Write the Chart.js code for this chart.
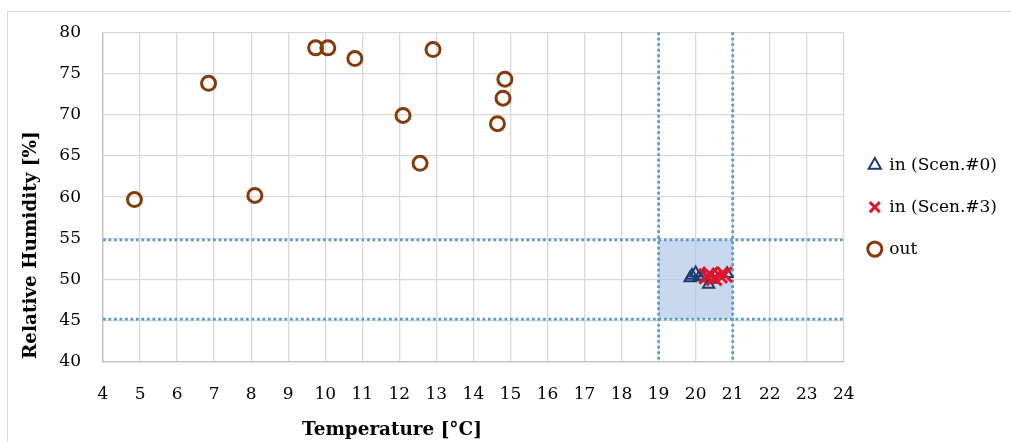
<!DOCTYPE html>
<html>
<head>
<meta charset="utf-8">
<script src="https://cdn.jsdelivr.net/npm/chart.js@4"></script>
<style>
  html, body { margin: 0; padding: 0; background: #fff; }
  #wrap { position: relative; width: 1011px; height: 442px; overflow: hidden; }
  #frame { position: absolute; left: 7px; top: 11px; width: 1020px; height: 450px; border: 1px solid #d9d9d9; box-sizing: border-box; }
  canvas { position: absolute; left: 0; top: 0; }
</style>
</head>
<body>
<div id="wrap">
  <div id="frame"></div>
  <canvas id="c" width="1011" height="442"></canvas>
</div>
<script>
// ---- data ----
const tempOut = [4.85, 6.85, 8.10, 9.74, 10.07, 10.80, 12.10, 12.56, 12.91, 14.65, 14.80, 14.85];
const rhOut   = [59.7, 73.8, 60.2, 78.1, 78.1, 76.8, 69.9, 64.1, 77.9, 68.9, 72.0, 74.3];

const tempIn0 = [19.85, 19.90, 20.00, 20.10, 20.20, 20.35, 20.45, 20.85];
const rhIn0   = [50.2, 50.5, 50.8, 50.3, 50.4, 49.4, 50.0, 50.7];

const tempIn3 = [20.30, 20.40, 20.50, 20.65, 20.78];
const rhIn3   = [50.4, 50.6, 50.2, 50.5, 50.6];

const zoneTemp = [19, 21];
const zoneRH   = [45.2, 54.8];

const xTicks = [4,5,6,7,8,9,10,11,12,13,14,15,16,17,18,19,20,21,22,23,24];
const yTicks = [40,45,50,55,60,65,70,75,80];

const seriesNames = ['in (Scen.#0)', 'in (Scen.#3)', 'out'];
const xTitle = 'Temperature [°C]';
const yTitle = 'Relative Humidity [%]';

const FONT = '"DejaVu Serif", "Liberation Serif", serif';

function pts(xs, ys) { return xs.map((x, i) => ({ x: x, y: ys[i] })); }

const zonePlugin = {
  id: 'zone',
  beforeDatasetsDraw(chart) {
    const { ctx, chartArea: a, scales: { x, y } } = chart;
    const x0 = x.getPixelForValue(zoneTemp[0]), x1 = x.getPixelForValue(zoneTemp[1]);
    const y0 = y.getPixelForValue(zoneRH[1]), y1 = y.getPixelForValue(zoneRH[0]);
    ctx.save();
    ctx.fillStyle = 'rgba(180,199,231,0.7)';
    ctx.fillRect(x0, y0, x1 - x0, y1 - y0);
    ctx.strokeStyle = '#5b9bd5';
    ctx.lineWidth = 2.75;
    ctx.setLineDash([2.75, 2.75]);
    ctx.beginPath();
    zoneTemp.forEach(v => { const px = x.getPixelForValue(v); ctx.moveTo(px, a.top); ctx.lineTo(px, a.bottom); });
    zoneRH.forEach(v => { const py = y.getPixelForValue(v); ctx.moveTo(a.left, py); ctx.lineTo(a.right, py); });
    ctx.stroke();
    ctx.restore();
  }
};

const titlePlugin = {
  id: 'axisTitles',
  afterDraw(chart) {
    const { ctx, chartArea: a } = chart;
    ctx.save();
    ctx.fillStyle = '#000';
    ctx.font = 'bold 18.4px ' + FONT;
    ctx.textBaseline = 'middle';
    ctx.textAlign = 'center';
    ctx.fillText(xTitle, 392, 430);
    ctx.translate(31, a.bottom - 3);
    ctx.rotate(-Math.PI / 2);
    ctx.textAlign = 'left';
    ctx.fillText(yTitle, 0, 0);
    ctx.restore();
  }
};

new Chart(document.getElementById('c'), {
  type: 'scatter',
  data: {
    datasets: [
      { label: seriesNames[0], data: pts(tempIn0, rhIn0), pointStyle: 'triangle', pointRadius: 6.5, order: 2,
        borderColor: '#1f3a73', backgroundColor: 'rgba(0,0,0,0)', borderWidth: 2, pointHoverRadius: 6.5 },
      { label: seriesNames[1], data: pts(tempIn3, rhIn3), pointStyle: 'crossRot', pointRadius: 10.5, order: 1,
        borderColor: '#e0162b', backgroundColor: '#e0162b', borderWidth: 3, pointHoverRadius: 10.5 },
      { label: seriesNames[2], data: pts(tempOut, rhOut), pointStyle: 'circle', pointRadius: 7, order: 3,
        borderColor: '#843c0c', backgroundColor: 'rgba(0,0,0,0)', borderWidth: 3, pointHoverRadius: 7 }
    ]
  },
  options: {
    responsive: false,
    animation: false,
    events: [],
    layout: { padding: { left: 8, top: 22, right: 4, bottom: 0 } },
    plugins: {
      tooltip: { enabled: false },
      legend: {
        position: 'right',
        fullSize: false,
        title: { display: true, text: ' ', font: { size: 10 }, padding: { top: 4, bottom: 4 } },
        labels: {
          usePointStyle: true,
          boxWidth: 12,
          boxHeight: 10,
          padding: 25,
          color: '#000',
          font: { family: FONT, size: 17 },
          sort: (a, b) => a.datasetIndex - b.datasetIndex
        }
      }
    },
    scales: {
      x: {
        type: 'linear', min: 4, max: 24,
        afterBuildTicks(s) { s.ticks = xTicks.map(v => ({ value: v })); },
        afterFit(s) { s.height = 80; },
        grid: { color: '#d9d9d9', lineWidth: 1.3, drawTicks: false },
        border: { color: '#bfbfbf', width: 1.3 },
        ticks: { padding: 22, color: '#000', font: { family: FONT, size: 17 }, maxRotation: 0, autoSkip: false }
      },
      y: {
        type: 'linear', min: 40, max: 80,
        afterBuildTicks(s) { s.ticks = yTicks.map(v => ({ value: v })); },
        afterFit(s) { s.width = 95; },
        grid: { color: '#d9d9d9', lineWidth: 1.3, drawTicks: false },
        border: { color: '#bfbfbf', width: 1.3 },
        ticks: { padding: 22, color: '#000', font: { family: FONT, size: 17 } }
      }
    }
  },
  plugins: [zonePlugin, titlePlugin]
});
</script>
</body>
</html>
